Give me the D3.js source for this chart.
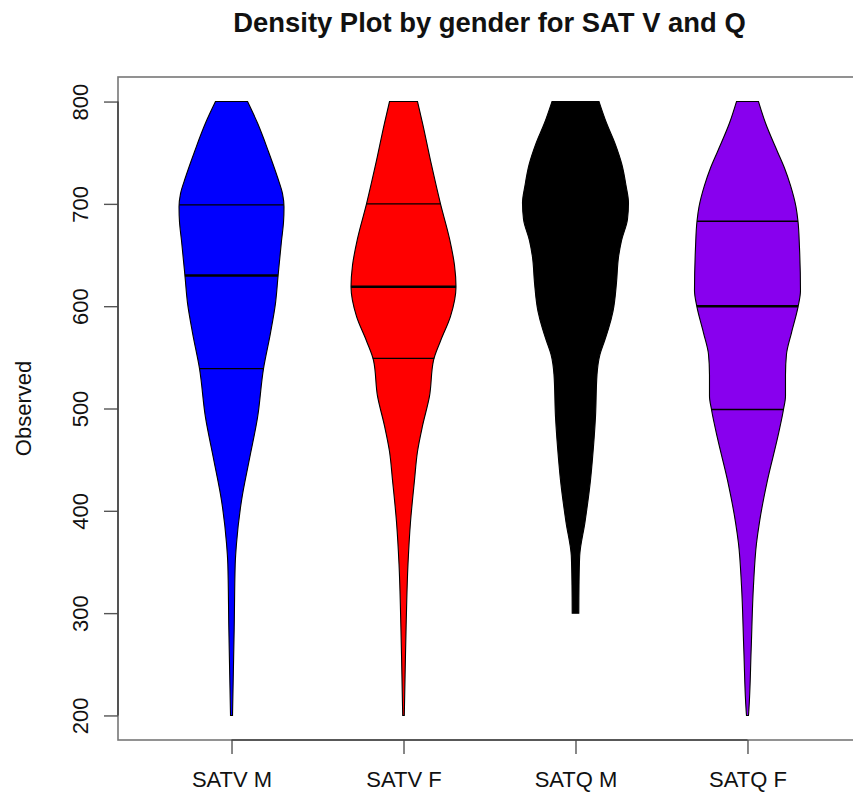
<!DOCTYPE html>
<html>
<head>
<meta charset="utf-8">
<script src="https://cdn.jsdelivr.net/npm/d3@7"></script>
<style>
  body { margin: 0; background: #fff; }
  text { font-family: "Liberation Sans", Arial, Helvetica, sans-serif; }
</style>
</head>
<body>
<div id="chart"></div>
<script>
// groups and colours
const groups = ["SATV M", "SATV F", "SATQ M", "SATQ F"];
const colors = ["#0000ff", "#ff0000", "#000000", "#8800ee"];
const yTicks = [200, 300, 400, 500, 600, 700, 800];

// density outlines: [score, relative width]
const satvM = [[200, 1], [240, 1.8], [286, 2.7], [348, 3.7], [368, 5], [410, 10], [451, 18], [491, 26],
  [539, 32], [574, 39], [603, 44], [629, 46.5], [664, 50], [682, 52], [697, 52.5], [710, 51],
  [726, 46], [751, 37], [779, 26], [800, 16]];
const satvF = [[200, 0.8], [240, 1.6], [286, 2.6], [348, 4.5], [389, 7], [430, 11], [458, 14], [483, 19],
  [512, 26], [547, 30], [566, 37], [590, 47], [619, 52.5], [640, 51], [666, 46], [700, 37],
  [738, 28], [779, 19], [800, 14]];
const satqM = [[300, 3.3], [327, 3.5], [356, 4.2], [389, 9.5], [430, 15], [451, 17], [492, 20], [533, 21.5],
  [553, 24.5], [566, 29], [578, 33], [595, 37.5], [623, 41], [648, 43], [664, 46], [685, 52],
  [701, 53], [718, 50.5], [738, 46.5], [759, 39.5], [779, 31], [800, 23.5]];
const satqF = [[200, 1], [204, 1.3], [265, 3.7], [327, 6], [368, 9], [389, 12], [430, 20], [471, 30],
  [499, 36], [512, 38], [533, 38], [553, 39], [574, 44], [599, 50.5], [615, 53], [657, 52],
  [683, 50.5], [697, 48.5], [718, 43], [735, 37], [751, 30], [779, 18], [800, 11]];
const densities = [satvM, satvF, satqM, satqF];

// quartiles (25%, median, 75%)
const quartiles = [[539, 630, 699], [549, 619, 700], [600, 660, 710], [499, 600, 683]];

const W = 853, H = 794;
const plot = { left: 118, right: 861, top: 77, bottom: 740 };

const svg = d3.select("#chart").append("svg")
  .attr("width", W)
  .attr("height", H);

const x = d3.scaleLinear().domain([0.34, 4.66]).range([plot.left, plot.right]);
const y = d3.scaleLinear().domain([176, 824]).range([plot.bottom, plot.top]);
// half width in pixels for a relative width value
const w = d3.scaleLinear().domain([0, 53]).range([0, 53]);

densities.forEach(function(dens, i) {
  const cx = x(i + 1);
  const area = d3.area()
    .y(d => y(d[0]))
    .x0(d => cx - w(d[1]))
    .x1(d => cx + w(d[1]))
    .curve(d3.curveMonotoneY);

  svg.append("path")
    .datum(dens)
    .attr("d", area)
    .attr("fill", colors[i])
    .attr("stroke", "#000")
    .attr("stroke-width", 1.1);

  // width of the violin at a given score
  const halfAt = d3.scaleLinear().domain(dens.map(d => d[0])).range(dens.map(d => d[1]));
  quartiles[i].forEach(function(q, j) {
    svg.append("line")
      .attr("x1", cx - w(halfAt(q)))
      .attr("x2", cx + w(halfAt(q)))
      .attr("y1", y(q))
      .attr("y2", y(q))
      .attr("stroke", "#000")
      .attr("stroke-width", j === 1 ? 2.4 : 1.4);
  });
});

// plot box
svg.append("rect")
  .attr("x", plot.left)
  .attr("y", plot.top)
  .attr("width", plot.right - plot.left)
  .attr("height", plot.bottom - plot.top)
  .attr("fill", "none")
  .attr("stroke", "#777")
  .attr("stroke-width", 1.6);

// y axis
const yAxis = svg.append("g")
  .attr("transform", "translate(" + plot.left + ",0)")
  .call(d3.axisLeft(y).tickValues(yTicks).tickSize(14).tickSizeOuter(0));
yAxis.select(".domain").remove();
yAxis.append("line")
  .attr("y1", y(200)).attr("y2", y(800))
  .attr("stroke", "#444").attr("stroke-width", 1.6);
yAxis.selectAll(".tick line").attr("stroke", "#555").attr("stroke-width", 1.4);
yAxis.selectAll(".tick text")
  .attr("x", null).attr("dy", null)
  .attr("transform", "translate(-30,0) rotate(-90)")
  .attr("text-anchor", "middle")
  .attr("fill", "#111")
  .style("font-size", "22px")
  .style("font-family", "'Liberation Sans', Arial, sans-serif");

// x axis
const xAxis = svg.append("g")
  .attr("transform", "translate(0," + plot.bottom + ")")
  .call(d3.axisBottom(x).tickValues([1, 2, 3, 4]).tickFormat((d, i) => groups[i]).tickSize(14).tickSizeOuter(0));
xAxis.select(".domain").remove();
xAxis.append("line")
  .attr("x1", x(1)).attr("x2", x(4))
  .attr("stroke", "#444").attr("stroke-width", 1.6);
xAxis.selectAll(".tick line").attr("stroke", "#555").attr("stroke-width", 1.4);
xAxis.selectAll(".tick text")
  .attr("y", 47).attr("dy", null)
  .attr("fill", "#111")
  .style("font-size", "22px")
  .style("font-family", "'Liberation Sans', Arial, sans-serif");

// labels
svg.append("text")
  .attr("x", (plot.left + plot.right) / 2)
  .attr("y", 32)
  .attr("text-anchor", "middle")
  .attr("font-weight", "bold")
  .attr("font-size", 27.4)
  .attr("fill", "#111")
  .text("Density Plot by gender for SAT V and Q");

svg.append("text")
  .attr("transform", "translate(31," + ((plot.top + plot.bottom) / 2) + ") rotate(-90)")
  .attr("text-anchor", "middle")
  .attr("font-size", 22)
  .attr("fill", "#111")
  .text("Observed");
</script>
</body>
</html>
